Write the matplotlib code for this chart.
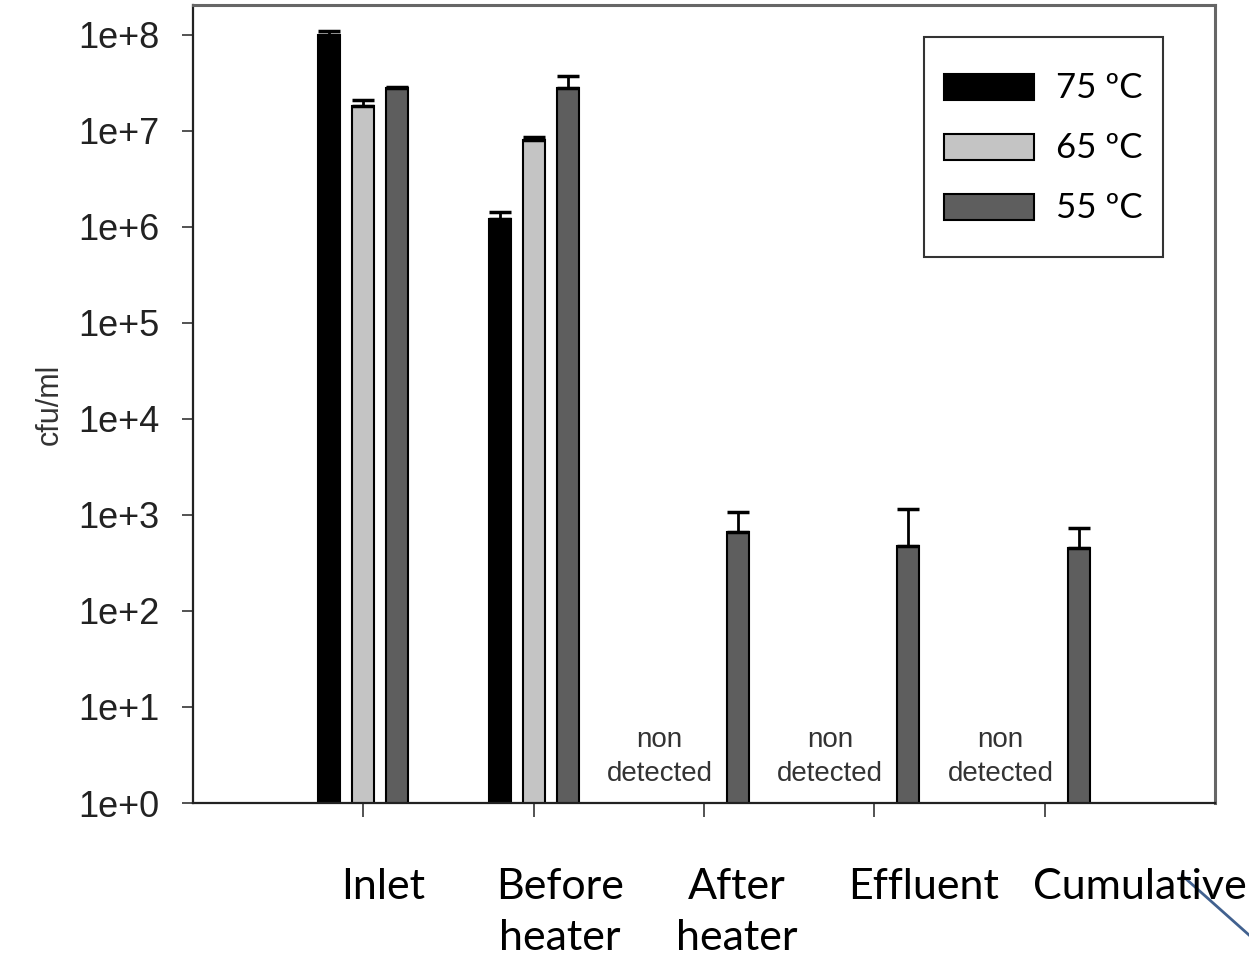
#!usr/bin/env python3

import numpy as np
import matplotlib
matplotlib.use("Agg")
import matplotlib.pyplot as plt
from matplotlib.lines import Line2D
from matplotlib.patches import Rectangle
from matplotlib.legend_handler import HandlerPatch

categories = ["Inlet", "Before\nheater", "After\nheater", "Effluent", "Cumulative"]
series_names = ["75 ºC", "65 ºC", "55 ºC"]
# cfu/ml, None = non detected
vals_75 = [1.0e8, 1.2e6, None, None, None]
err_75 = [1.0e7, 2.3e5, None, None, None]
vals_65 = [1.8e7, 8.0e6, None, None, None]
err_65 = [2.7e6, 6.0e5, None, None, None]
vals_55 = [2.8e7, 2.8e7, 665, 475, 455]
err_55 = [4.0e5, 9.0e6, 410, 675, 275]
ytick_labels = ["1e+0", "1e+1", "1e+2", "1e+3", "1e+4", "1e+5", "1e+6", "1e+7", "1e+8"]


def thin_rect(legend, orig_handle, xdescent, ydescent, width, height, fontsize):
	# legend swatch thinner than the row height
	h = height * 0.43
	return Rectangle((-xdescent, -ydescent + (height - h) / 2), width, h)


def main():
	fig = plt.figure(figsize=(12.49, 9.57), dpi=100)
	ax = fig.add_axes([0.1545, 0.1609, 0.8183, 0.8339])

	x = np.arange(1, len(categories) + 1)
	series = [(vals_75, err_75, "black"), (vals_65, err_65, "#c4c4c4"), (vals_55, err_55, "#5e5e5e")]
	offsets = [-0.2, 0.0, 0.2]
	handles = []
	for (vals, errs, col), off, name in zip(series, offsets, series_names):
		xs = [xi + off for xi, v in zip(x, vals) if v is not None]
		vs = [v for v in vals if v is not None]
		es = [e for v, e in zip(vals, errs) if v is not None]
		b = ax.bar(xs, vs, width=0.13, color=col, edgecolor="black", linewidth=1.5, label=name, zorder=2)
		ax.errorbar(xs, vs, yerr=[np.zeros(len(es)), es], fmt="none", ecolor="black",
			elinewidth=2, capsize=8, capthick=2.5, zorder=3)
		handles.append(b.patches[0])

	# non detected labels
	for xi, v in zip(x, vals_75):
		if v is None:
			ax.text(xi - 0.26, 3.0e0, "non\ndetected", ha="center", va="center",
				fontsize=20, color="#333333", family="Liberation Sans", linespacing=1.4)

	ax.set_yscale("log")
	ax.set_ylim(1, 10 ** 8.31)
	ax.set_xlim(0, 6)
	ax.set_yticks([10.0 ** i for i in range(9)])
	ax.set_yticklabels(ytick_labels, family="Liberation Sans", fontsize=26, color="#222222")
	ax.yaxis.set_minor_locator(matplotlib.ticker.NullLocator())
	ax.set_xticks(x)
	ax.set_xticklabels([])
	ax.tick_params(axis="y", length=8, width=1.3, color="#444444", pad=16)
	ax.tick_params(axis="x", length=10, width=1.3, color="#444444")
	ax.set_ylabel("cfu/ml", family="Liberation Sans", fontsize=22, color="#333333", labelpad=10)

	for side in ["left", "bottom"]:
		ax.spines[side].set_color("#222222")
		ax.spines[side].set_linewidth(1.6)
	for side in ["top", "right"]:
		ax.spines[side].set_color("#666666")
		ax.spines[side].set_linewidth(2.2)

	leg = ax.legend(handles=handles, labels=series_names, loc="upper right", bbox_to_anchor=(0.949, 0.960),
		borderaxespad=0, prop={"family": "Lato", "size": 25}, fancybox=False, edgecolor="black",
		handlelength=2.6, handleheight=2.28, labelspacing=0.0, borderpad=0.58, handletextpad=0.63,
		handler_map={Rectangle: HandlerPatch(patch_func=thin_rect)})
	leg.get_frame().set_linewidth(1.5)

	# category labels
	label_x = [383, 560, 737, 924, 1140]
	for lx, name in zip(label_x, categories):
		fig.text(lx / 1249, 1 - 868 / 957, name, ha="center", va="top", fontsize=31,
			family="Lato", color="black", linespacing=1.42)

	fig.add_artist(Line2D([1185 / 1249, 1249 / 1249], [1 - 878 / 957, 1 - 935 / 957],
		color="#41618f", linewidth=2, transform=fig.transFigure))

	fig.savefig("out.png", dpi=100)


if __name__ == "__main__":
	main()
